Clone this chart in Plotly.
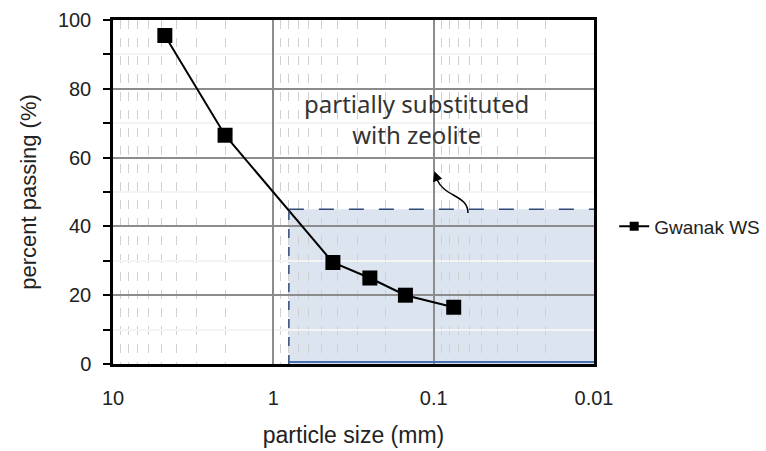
import plotly.graph_objects as go

# Sieve analysis: particle size (mm) vs. percent passing (%)
sizes_mm = [4.75, 2.0, 0.425, 0.25, 0.15, 0.075]
passing_pct = [95.5, 66.5, 29.5, 25.0, 20.0, 16.5]
series_name = "Gwanak WS"

# Zone replaced with zeolite
zone_size_max = 0.8
zone_size_min = 0.01
zone_pct_max = 45

x_tick_vals = [10, 1, 0.1, 0.01]
x_tick_text = ["10", "1", "0.1", "0.01"]
y_tick_vals = [0, 20, 40, 60, 80, 100]

font_main = "Liberation Sans, Arial, sans-serif"

fig = go.Figure()

fig.add_trace(go.Scatter(
    x=sizes_mm, y=passing_pct, name=series_name,
    mode="lines+markers", showlegend=False,
    line=dict(color="black", width=2),
    marker=dict(symbol="square", size=15, color="black"),
))
# legend entry with a smaller symbol
fig.add_trace(go.Scatter(
    x=[None], y=[None], name=series_name,
    mode="lines+markers",
    line=dict(color="black", width=2),
    marker=dict(symbol="square", size=9, color="black"),
))

# shaded zone (under the grid)
fig.add_shape(type="rect", xref="x", yref="y",
              x0=zone_size_max, x1=zone_size_min, y0=0, y1=zone_pct_max,
              fillcolor="#dce4f0", line=dict(width=0), layer="below")
# zone borders
fig.add_shape(type="line", xref="x", yref="y",
              x0=zone_size_max, x1=zone_size_min, y0=zone_pct_max, y1=zone_pct_max,
              line=dict(color="#2f4a78", width=1.5, dash="longdash"), layer="above")
fig.add_shape(type="line", xref="x", yref="y",
              x0=zone_size_max, x1=zone_size_max, y0=0, y1=zone_pct_max,
              line=dict(color="#2f4a78", width=1.5, dash="dash"), layer="above")
fig.add_shape(type="line", xref="x", yref="y",
              x0=zone_size_max, x1=zone_size_min, y0=0.6, y1=0.6,
              line=dict(color="#4a72b0", width=2), layer="above")

# curved pointer from the zone to the label
fig.add_shape(type="path", xref="paper", yref="paper",
              path="M 0.738,0.439 C 0.738,0.491 0.690,0.485 0.674,0.535",
              line=dict(color="black", width=1.5))
fig.add_annotation(xref="paper", yref="paper", x=0.668, y=0.56,
                   ax=4, ay=11, text="", showarrow=True,
                   arrowhead=2, arrowsize=1.3, arrowwidth=1.5, arrowcolor="black")

fig.add_annotation(xref="paper", yref="paper", x=0.632, y=0.81,
                   text="partially substituted<br>with zeolite",
                   showarrow=False, align="center",
                   font=dict(family="Noto Sans, sans-serif", size=24, color="#333333"))

fig.update_xaxes(
    type="log", range=[1, -2],
    tickvals=x_tick_vals, ticktext=x_tick_text,
    ticks="outside", ticklen=14, tickcolor="rgba(0,0,0,0)",
    tickfont=dict(family=font_main, size=20, color="#222222"),
    showline=True, linecolor="black", linewidth=2.5, mirror=True,
    showgrid=True, gridcolor="#8c8c8c", gridwidth=1.5,
    minor=dict(dtick="D1", showgrid=True, gridcolor="#d0d0d0",
               griddash="dash", gridwidth=1, ticks=""),
    title=dict(text="particle size (mm)", standoff=20,
               font=dict(family=font_main, size=23, color="#222222")),
    zeroline=False, automargin=False,
)
fig.update_yaxes(
    range=[0, 100], tickvals=y_tick_vals,
    ticks="outside", ticklen=7, tickcolor="black", tickwidth=1.5,
    ticklabelstandoff=8,
    tickfont=dict(family=font_main, size=20, color="#222222"),
    showline=True, linecolor="black", linewidth=2.5, mirror=True,
    showgrid=True, gridcolor="#8c8c8c", gridwidth=1.5,
    minor=dict(dtick=10, showgrid=True, gridcolor="#f4f4f4", gridwidth=1.5,
               ticks="outside", ticklen=7, tickcolor="black", tickwidth=1.5),
    title=dict(text="percent passing (%)", standoff=16,
               font=dict(family=font_main, size=22, color="#222222")),
    zeroline=False, automargin=False,
)

fig.update_layout(
    width=766, height=451,
    margin=dict(l=113, r=172, t=20, b=87, autoexpand=False),
    paper_bgcolor="white", plot_bgcolor="white",
    showlegend=True,
    legend=dict(x=1.042, y=0.40, yanchor="middle", xanchor="left",
                font=dict(family=font_main, size=19, color="#222222"),
                bgcolor="rgba(0,0,0,0)"),
)

fig.write_html("out.html")
